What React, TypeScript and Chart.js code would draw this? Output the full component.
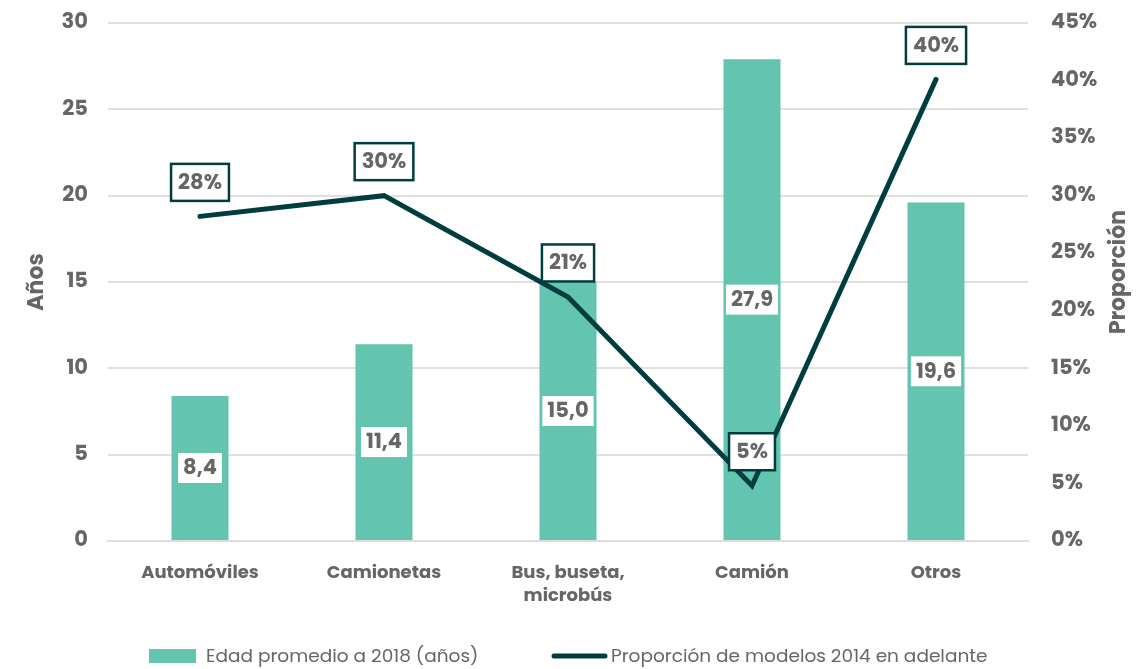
import React, { useEffect, useRef } from "react";
import { Chart, registerables } from "chart.js";

Chart.register(...registerables);

const categories: (string | string[])[] = [
  "Automóviles",
  "Camionetas",
  ["Bus, buseta,", "microbús"],
  "Camión",
  "Otros",
];
const edadPromedio = [8.4, 11.4, 15.0, 27.9, 19.6];
const proporcion = [28.2, 30.0, 21.2, 4.8, 40.1];
const proporcionLabels = ["28%", "30%", "21%", "5%", "40%"];
const leftTicks = [0, 5, 10, 15, 20, 25, 30];
const rightTicks = [0, 5, 10, 15, 20, 25, 30, 35, 40, 45];
const barLegend = "Edad promedio a 2018 (años)";
const lineLegend = "Proporción de modelos 2014 en adelante";
const leftTitle = "Años";
const rightTitle = "Proporción";

const FONT = "Poppins, 'Open Sans', sans-serif";
const TEAL = "#63C5B0";
const DARK = "#003D3F";
const GRAY = "#666666";

const labelPlugin = {
  id: "customLabels",
  afterDatasetsDraw(chart: any) {
    const ctx = chart.ctx;
    ctx.save();
    const barMeta = chart.getDatasetMeta(1);
    ctx.font = `bold 21px ${FONT}`;
    ctx.textAlign = "center";
    ctx.textBaseline = "middle";
    barMeta.data.forEach((el: any, i: number) => {
      const txt = edadPromedio[i].toFixed(1).replace(".", ",");
      const cx = el.x;
      const cy = (el.y + el.base) / 2;
      const w = ctx.measureText(txt).width + 10;
      const h = 30;
      ctx.fillStyle = "#ffffff";
      ctx.fillRect(cx - w / 2, cy - h / 2, w, h);
      ctx.fillStyle = GRAY;
      ctx.fillText(txt, cx, cy + 1);
    });
    const lineMeta = chart.getDatasetMeta(0);
    lineMeta.data.forEach((el: any, i: number) => {
      const txt = proporcionLabels[i];
      const cx = el.x;
      const cy = el.y - 34;
      const w = ctx.measureText(txt).width + 14;
      const h = 37;
      ctx.fillStyle = "#ffffff";
      ctx.fillRect(cx - w / 2, cy - h / 2, w, h);
      ctx.strokeStyle = DARK;
      ctx.lineWidth = 2.5;
      ctx.strokeRect(cx - w / 2, cy - h / 2, w, h);
      ctx.fillStyle = GRAY;
      ctx.fillText(txt, cx, cy + 1);
    });
    ctx.restore();
  },
  afterDraw(chart: any) {
    const ctx = chart.ctx;
    ctx.save();
    ctx.font = `bold 22px ${FONT}`;
    ctx.fillStyle = GRAY;
    ctx.textAlign = "center";
    ctx.textBaseline = "middle";
    ctx.translate(37, 282);
    ctx.rotate(-Math.PI / 2);
    ctx.fillText(leftTitle, 0, 0);
    ctx.setTransform(1, 0, 0, 1, 0, 0);
    ctx.translate(1119, 272);
    ctx.rotate(-Math.PI / 2);
    ctx.fillText(rightTitle, 0, 0);
    ctx.setTransform(1, 0, 0, 1, 0, 0);
    const ly = 656;
    ctx.fillStyle = TEAL;
    ctx.fillRect(149, ly - 7, 47, 14);
    ctx.font = `18.5px ${FONT}`;
    ctx.fillStyle = GRAY;
    ctx.textAlign = "left";
    ctx.fillText(barLegend, 206, ly + 1);
    ctx.strokeStyle = DARK;
    ctx.lineWidth = 5;
    ctx.lineCap = "round";
    ctx.beginPath();
    ctx.moveTo(554, ly);
    ctx.lineTo(605, ly);
    ctx.stroke();
    ctx.fillText(lineLegend, 611, ly + 1);
    ctx.restore();
  },
};

function fitVertical(width: number) {
  return (scale: any) => {
    scale.width = width;
    scale.paddingTop = 0;
    scale.paddingBottom = 0;
  };
}

export default function App() {
  const ref = useRef<HTMLCanvasElement>(null);
  useEffect(() => {
    if (!ref.current) return;
    const chart = new Chart(ref.current, {
      type: "bar",
      data: {
        labels: categories,
        datasets: [
          {
            type: "line",
            label: lineLegend,
            data: proporcion,
            yAxisID: "y1",
            borderColor: DARK,
            backgroundColor: DARK,
            borderWidth: 5,
            pointRadius: 0,
            tension: 0,
            borderCapStyle: "round",
            borderJoinStyle: "miter",
            order: 0,
          } as any,
          {
            type: "bar",
            label: barLegend,
            data: edadPromedio,
            yAxisID: "y",
            backgroundColor: TEAL,
            barPercentage: 0.62,
            categoryPercentage: 0.5,
            order: 1,
          },
        ],
      },
      options: {
        responsive: false,
        animation: false,
        layout: { padding: { top: 23, left: 0, right: 0, bottom: 0 } },
        plugins: {
          legend: { display: false },
          tooltip: { enabled: false },
        },
        scales: {
          x: {
            grid: { display: false, drawTicks: false },
            border: { display: true, color: "#dedede", width: 2 },
            ticks: {
              color: GRAY,
              font: { family: FONT, size: 18, weight: "bold", lineHeight: 1.28 },
              padding: 21,
              maxRotation: 0,
              autoSkip: false,
            },
            afterFit(scale: any) {
              scale.height = 128;
              scale.paddingLeft = 0;
              scale.paddingRight = 0;
            },
          },
          y: {
            position: "left",
            min: 0,
            max: 30,
            afterBuildTicks(scale: any) {
              scale.ticks = leftTicks.map((v) => ({ value: v }));
            },
            grid: { color: "#e0e0e0", lineWidth: 2, drawTicks: false },
            border: { display: false },
            ticks: {
              color: GRAY,
              font: { family: FONT, size: 21, weight: "bold" },
              padding: 20,
            },
            afterFit: fitVertical(108),
          },
          y1: {
            position: "right",
            min: 0,
            max: 45,
            afterBuildTicks(scale: any) {
              scale.ticks = rightTicks.map((v) => ({ value: v }));
            },
            grid: { display: false, drawTicks: false },
            border: { display: false },
            ticks: {
              color: GRAY,
              font: { family: FONT, size: 21, weight: "bold" },
              padding: 23,
              callback: (v: any) => `${v}%`,
            },
            afterFit: fitVertical(117),
          },
        },
      },
      plugins: [labelPlugin],
    });
    return () => chart.destroy();
  }, []);
  return (
    <div style={{ position: "fixed", left: 0, top: 0, width: 1145, height: 669, background: "#fff" }}>
      <canvas ref={ref} width={1145} height={669} style={{ display: "block" }} />
    </div>
  );
}
